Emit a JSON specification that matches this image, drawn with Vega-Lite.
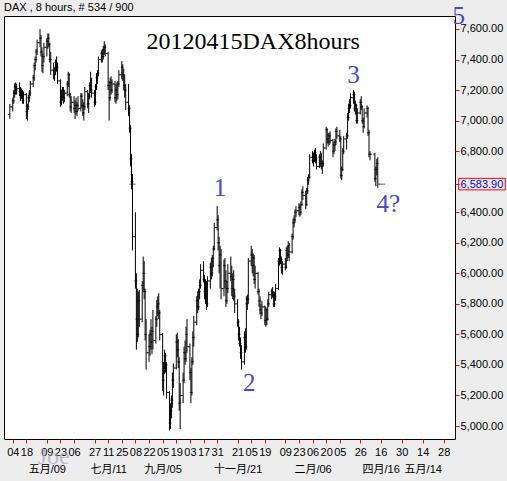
{
"$schema": "https://vega.github.io/schema/vega-lite/v6.json",
"width": 451, "height": 423,
"autosize": {"type": "none"},
"padding": {"left": 4, "top": 16, "right": 52, "bottom": 42},
"background": "#EDEDED",
"title": {"text": "DAX , 8 hours, # 534 / 900", "anchor": "start", "frame": "group", "font": "Liberation Sans", "fontSize": 11, "fontWeight": "normal", "color": "#000000", "offset": -9},
"config": {"view": {"stroke": "#000000", "fill": "#FFFFFF", "strokeWidth": 1}, "font": "Liberation Sans"},
"datasets": {
"ohlc": [
{"d":"2011-04-01","o":7040,"h":7110,"l":7010,"c":7090},
{"d":"2011-04-04","o":7090,"h":7150,"l":7060,"c":7130},
{"d":"2011-04-05","o":7130,"h":7200,"l":7110,"c":7180},
{"d":"2011-04-06","o":7180,"h":7245,"l":7150,"c":7220},
{"d":"2011-04-07","o":7220,"h":7250,"l":7170,"c":7200},
{"d":"2011-04-08","o":7200,"h":7240,"l":7170,"c":7210},
{"d":"2011-04-11","o":7210,"h":7250,"l":7160,"c":7190},
{"d":"2011-04-12","o":7190,"h":7220,"l":7130,"c":7150},
{"d":"2011-04-13","o":7150,"h":7210,"l":7140,"c":7190},
{"d":"2011-04-14","o":7190,"h":7200,"l":7110,"c":7130},
{"d":"2011-04-15","o":7130,"h":7190,"l":7110,"c":7170},
{"d":"2011-04-18","o":7170,"h":7180,"l":7010,"c":7060},
{"d":"2011-04-19","o":7060,"h":7110,"l":7000,"c":7090},
{"d":"2011-04-20","o":7090,"h":7170,"l":7070,"c":7150},
{"d":"2011-04-21","o":7150,"h":7200,"l":7120,"c":7180},
{"d":"2011-04-22","o":7180,"h":7260,"l":7160,"c":7240},
{"d":"2011-04-25","o":7240,"h":7300,"l":7220,"c":7280},
{"d":"2011-04-26","o":7280,"h":7380,"l":7260,"c":7360},
{"d":"2011-04-27","o":7360,"h":7420,"l":7330,"c":7400},
{"d":"2011-04-28","o":7400,"h":7470,"l":7380,"c":7450},
{"d":"2011-04-29","o":7450,"h":7530,"l":7430,"c":7510},
{"d":"2011-05-02","o":7510,"h":7600,"l":7480,"c":7540},
{"d":"2011-05-03","o":7540,"h":7560,"l":7420,"c":7450},
{"d":"2011-05-04","o":7450,"h":7480,"l":7320,"c":7360},
{"d":"2011-05-05","o":7360,"h":7440,"l":7310,"c":7420},
{"d":"2011-05-06","o":7420,"h":7510,"l":7380,"c":7480},
{"d":"2011-05-09","o":7480,"h":7540,"l":7420,"c":7520},
{"d":"2011-05-10","o":7520,"h":7570,"l":7470,"c":7540},
{"d":"2011-05-11","o":7540,"h":7570,"l":7480,"c":7500},
{"d":"2011-05-12","o":7500,"h":7510,"l":7380,"c":7400},
{"d":"2011-05-13","o":7400,"h":7450,"l":7300,"c":7330},
{"d":"2011-05-16","o":7330,"h":7380,"l":7270,"c":7300},
{"d":"2011-05-17","o":7300,"h":7350,"l":7260,"c":7340},
{"d":"2011-05-18","o":7340,"h":7400,"l":7300,"c":7380},
{"d":"2011-05-19","o":7380,"h":7420,"l":7320,"c":7350},
{"d":"2011-05-20","o":7350,"h":7380,"l":7240,"c":7260},
{"d":"2011-05-23","o":7260,"h":7270,"l":7090,"c":7120},
{"d":"2011-05-24","o":7120,"h":7200,"l":7100,"c":7160},
{"d":"2011-05-25","o":7160,"h":7220,"l":7130,"c":7200},
{"d":"2011-05-26","o":7200,"h":7220,"l":7110,"c":7150},
{"d":"2011-05-27","o":7150,"h":7200,"l":7120,"c":7180},
{"d":"2011-05-30","o":7180,"h":7260,"l":7160,"c":7240},
{"d":"2011-05-31","o":7240,"h":7320,"l":7220,"c":7300},
{"d":"2011-06-01","o":7300,"h":7310,"l":7150,"c":7170},
{"d":"2011-06-02","o":7170,"h":7180,"l":7060,"c":7090},
{"d":"2011-06-03","o":7090,"h":7160,"l":7050,"c":7120},
{"d":"2011-06-06","o":7120,"h":7160,"l":7050,"c":7080},
{"d":"2011-06-07","o":7080,"h":7130,"l":7010,"c":7100},
{"d":"2011-06-08","o":7100,"h":7150,"l":7040,"c":7060},
{"d":"2011-06-09","o":7060,"h":7120,"l":7030,"c":7100},
{"d":"2011-06-10","o":7100,"h":7160,"l":7060,"c":7080},
{"d":"2011-06-13","o":7080,"h":7180,"l":7060,"c":7160},
{"d":"2011-06-14","o":7160,"h":7180,"l":7080,"c":7100},
{"d":"2011-06-15","o":7100,"h":7140,"l":7030,"c":7050},
{"d":"2011-06-16","o":7050,"h":7120,"l":7000,"c":7090},
{"d":"2011-06-17","o":7090,"h":7220,"l":7070,"c":7190},
{"d":"2011-06-20","o":7190,"h":7200,"l":7080,"c":7110},
{"d":"2011-06-21","o":7110,"h":7180,"l":7050,"c":7160},
{"d":"2011-06-22","o":7160,"h":7250,"l":7140,"c":7230},
{"d":"2011-06-23","o":7230,"h":7320,"l":7180,"c":7200},
{"d":"2011-06-24","o":7200,"h":7280,"l":7150,"c":7180},
{"d":"2011-06-27","o":7180,"h":7200,"l":7090,"c":7120},
{"d":"2011-06-28","o":7120,"h":7240,"l":7100,"c":7220},
{"d":"2011-06-29","o":7220,"h":7310,"l":7200,"c":7280},
{"d":"2011-06-30","o":7280,"h":7330,"l":7240,"c":7310},
{"d":"2011-07-01","o":7310,"h":7420,"l":7290,"c":7400},
{"d":"2011-07-04","o":7400,"h":7460,"l":7380,"c":7440},
{"d":"2011-07-05","o":7440,"h":7470,"l":7380,"c":7420},
{"d":"2011-07-06","o":7420,"h":7490,"l":7400,"c":7460},
{"d":"2011-07-07","o":7460,"h":7520,"l":7430,"c":7480},
{"d":"2011-07-08","o":7480,"h":7500,"l":7420,"c":7440},
{"d":"2011-07-11","o":7440,"h":7450,"l":7200,"c":7230},
{"d":"2011-07-12","o":7230,"h":7260,"l":7000,"c":7150},
{"d":"2011-07-13","o":7150,"h":7280,"l":7130,"c":7250},
{"d":"2011-07-14","o":7250,"h":7290,"l":7170,"c":7200},
{"d":"2011-07-15","o":7200,"h":7270,"l":7180,"c":7240},
{"d":"2011-07-18","o":7240,"h":7260,"l":7120,"c":7150},
{"d":"2011-07-19","o":7150,"h":7240,"l":7110,"c":7200},
{"d":"2011-07-20","o":7200,"h":7250,"l":7130,"c":7170},
{"d":"2011-07-21","o":7170,"h":7260,"l":7140,"c":7240},
{"d":"2011-07-22","o":7240,"h":7330,"l":7220,"c":7300},
{"d":"2011-07-25","o":7300,"h":7390,"l":7270,"c":7350},
{"d":"2011-07-26","o":7350,"h":7370,"l":7260,"c":7300},
{"d":"2011-07-27","o":7300,"h":7340,"l":7200,"c":7230},
{"d":"2011-07-28","o":7230,"h":7300,"l":7150,"c":7200},
{"d":"2011-07-29","o":7200,"h":7240,"l":7070,"c":7120},
{"d":"2011-08-01","o":7120,"h":7240,"l":7030,"c":7080},
{"d":"2011-08-02","o":7080,"h":7100,"l":6920,"c":6950},
{"d":"2011-08-03","o":6950,"h":6970,"l":6700,"c":6750},
{"d":"2011-08-04","o":6750,"h":6780,"l":6550,"c":6600},
{"d":"2011-08-05","o":6600,"h":6650,"l":6150,"c":6240},
{"d":"2011-08-08","o":6240,"h":6400,"l":5900,"c":5950},
{"d":"2011-08-09","o":5950,"h":6000,"l":5500,"c":5700},
{"d":"2011-08-10","o":5700,"h":5900,"l":5550,"c":5600},
{"d":"2011-08-11","o":5600,"h":5880,"l":5580,"c":5820},
{"d":"2011-08-12","o":5820,"h":5890,"l":5650,"c":5700},
{"d":"2011-08-15","o":5700,"h":5950,"l":5680,"c":5920},
{"d":"2011-08-16","o":5920,"h":6110,"l":5880,"c":6000},
{"d":"2011-08-17","o":6000,"h":6080,"l":5830,"c":5880},
{"d":"2011-08-18","o":5880,"h":5900,"l":5560,"c":5600},
{"d":"2011-08-19","o":5600,"h":5700,"l":5370,"c":5480},
{"d":"2011-08-22","o":5480,"h":5600,"l":5420,"c":5520},
{"d":"2011-08-23","o":5520,"h":5630,"l":5460,"c":5600},
{"d":"2011-08-24","o":5600,"h":5700,"l":5500,"c":5550},
{"d":"2011-08-25","o":5550,"h":5650,"l":5470,"c":5620},
{"d":"2011-08-26","o":5620,"h":5760,"l":5500,"c":5560},
{"d":"2011-08-29","o":5560,"h":5720,"l":5540,"c":5700},
{"d":"2011-08-30","o":5700,"h":5825,"l":5650,"c":5780},
{"d":"2011-08-31","o":5780,"h":5850,"l":5720,"c":5800},
{"d":"2011-09-01","o":5800,"h":5870,"l":5700,"c":5740},
{"d":"2011-09-02","o":5740,"h":5760,"l":5560,"c":5600},
{"d":"2011-09-05","o":5600,"h":5610,"l":5230,"c":5300},
{"d":"2011-09-06","o":5300,"h":5420,"l":5200,"c":5380},
{"d":"2011-09-07","o":5380,"h":5500,"l":5340,"c":5460},
{"d":"2011-09-08","o":5460,"h":5480,"l":5350,"c":5400},
{"d":"2011-09-09","o":5400,"h":5420,"l":5180,"c":5220},
{"d":"2011-09-12","o":5220,"h":5230,"l":4970,"c":5020},
{"d":"2011-09-13","o":5020,"h":5150,"l":4980,"c":5100},
{"d":"2011-09-14","o":5100,"h":5200,"l":5050,"c":5170},
{"d":"2011-09-15","o":5170,"h":5350,"l":5120,"c":5300},
{"d":"2011-09-16","o":5300,"h":5410,"l":5250,"c":5380},
{"d":"2011-09-19","o":5380,"h":5600,"l":5370,"c":5550},
{"d":"2011-09-20","o":5550,"h":5610,"l":5450,"c":5500},
{"d":"2011-09-21","o":5500,"h":5570,"l":5380,"c":5420},
{"d":"2011-09-22","o":5420,"h":5450,"l":5100,"c":5150},
{"d":"2011-09-23","o":5150,"h":5280,"l":4980,"c":5200},
{"d":"2011-09-26","o":5200,"h":5350,"l":5150,"c":5300},
{"d":"2011-09-27","o":5300,"h":5520,"l":5280,"c":5480},
{"d":"2011-09-28","o":5480,"h":5560,"l":5400,"c":5440},
{"d":"2011-09-29","o":5440,"h":5650,"l":5420,"c":5600},
{"d":"2011-09-30","o":5600,"h":5700,"l":5480,"c":5520},
{"d":"2011-10-03","o":5520,"h":5540,"l":5300,"c":5350},
{"d":"2011-10-04","o":5350,"h":5380,"l":5150,"c":5220},
{"d":"2011-10-05","o":5220,"h":5450,"l":5200,"c":5420},
{"d":"2011-10-06","o":5420,"h":5620,"l":5400,"c":5580},
{"d":"2011-10-07","o":5580,"h":5720,"l":5520,"c":5680},
{"d":"2011-10-10","o":5680,"h":5850,"l":5660,"c":5820},
{"d":"2011-10-11","o":5820,"h":5880,"l":5740,"c":5780},
{"d":"2011-10-12","o":5780,"h":5900,"l":5760,"c":5880},
{"d":"2011-10-13","o":5880,"h":5960,"l":5830,"c":5920},
{"d":"2011-10-14","o":5920,"h":6060,"l":5900,"c":6020},
{"d":"2011-10-17","o":6020,"h":6080,"l":5940,"c":5960},
{"d":"2011-10-18","o":5960,"h":5990,"l":5830,"c":5880},
{"d":"2011-10-19","o":5880,"h":5960,"l":5800,"c":5930},
{"d":"2011-10-20","o":5930,"h":5950,"l":5760,"c":5800},
{"d":"2011-10-21","o":5800,"h":5980,"l":5780,"c":5950},
{"d":"2011-10-24","o":5950,"h":6070,"l":5900,"c":6040},
{"d":"2011-10-25","o":6040,"h":6100,"l":5960,"c":6000},
{"d":"2011-10-26","o":6000,"h":6120,"l":5980,"c":6100},
{"d":"2011-10-27","o":6100,"h":6180,"l":6040,"c":6160},
{"d":"2011-10-28","o":6160,"h":6330,"l":6150,"c":6300},
{"d":"2011-10-31","o":6300,"h":6440,"l":6280,"c":6350},
{"d":"2011-11-01","o":6350,"h":6380,"l":6150,"c":6200},
{"d":"2011-11-02","o":6200,"h":6240,"l":6000,"c":6050},
{"d":"2011-11-03","o":6050,"h":6180,"l":5900,"c":6120},
{"d":"2011-11-04","o":6120,"h":6160,"l":5830,"c":5900},
{"d":"2011-11-07","o":5900,"h":6090,"l":5850,"c":6050},
{"d":"2011-11-08","o":6050,"h":6100,"l":5900,"c":5950},
{"d":"2011-11-09","o":5950,"h":6020,"l":5780,"c":5820},
{"d":"2011-11-10","o":5820,"h":5950,"l":5800,"c":5900},
{"d":"2011-11-11","o":5900,"h":6060,"l":5870,"c":6000},
{"d":"2011-11-14","o":6000,"h":6110,"l":5950,"c":5980},
{"d":"2011-11-15","o":5980,"h":6050,"l":5850,"c":5900},
{"d":"2011-11-16","o":5900,"h":6000,"l":5830,"c":5960},
{"d":"2011-11-17","o":5960,"h":6020,"l":5820,"c":5850},
{"d":"2011-11-18","o":5850,"h":5900,"l":5740,"c":5800},
{"d":"2011-11-21","o":5800,"h":5830,"l":5650,"c":5680},
{"d":"2011-11-22","o":5680,"h":5700,"l":5560,"c":5600},
{"d":"2011-11-23","o":5600,"h":5650,"l":5520,"c":5540},
{"d":"2011-11-24","o":5540,"h":5580,"l":5440,"c":5480},
{"d":"2011-11-25","o":5480,"h":5530,"l":5370,"c":5420},
{"d":"2011-11-28","o":5420,"h":5620,"l":5400,"c":5580},
{"d":"2011-11-29","o":5580,"h":5640,"l":5480,"c":5520},
{"d":"2011-11-30","o":5520,"h":5850,"l":5500,"c":5800},
{"d":"2011-12-01","o":5800,"h":5860,"l":5760,"c":5830},
{"d":"2011-12-02","o":5830,"h":6100,"l":5800,"c":6080},
{"d":"2011-12-05","o":6080,"h":6180,"l":6050,"c":6120},
{"d":"2011-12-06","o":6120,"h":6160,"l":6000,"c":6050},
{"d":"2011-12-07","o":6050,"h":6130,"l":5980,"c":6100},
{"d":"2011-12-08","o":6100,"h":6120,"l":5930,"c":5960},
{"d":"2011-12-09","o":5960,"h":6050,"l":5900,"c":6000},
{"d":"2011-12-12","o":6000,"h":6010,"l":5860,"c":5880},
{"d":"2011-12-13","o":5880,"h":5900,"l":5780,"c":5820},
{"d":"2011-12-14","o":5820,"h":5850,"l":5730,"c":5760},
{"d":"2011-12-15","o":5760,"h":5800,"l":5700,"c":5740},
{"d":"2011-12-16","o":5740,"h":5820,"l":5720,"c":5780},
{"d":"2011-12-19","o":5780,"h":5790,"l":5660,"c":5690},
{"d":"2011-12-20","o":5690,"h":5780,"l":5650,"c":5760},
{"d":"2011-12-21","o":5760,"h":5770,"l":5660,"c":5700},
{"d":"2011-12-22","o":5700,"h":5830,"l":5690,"c":5800},
{"d":"2011-12-23","o":5800,"h":5880,"l":5780,"c":5860},
{"d":"2011-12-26","o":5860,"h":5900,"l":5830,"c":5880},
{"d":"2011-12-27","o":5880,"h":5910,"l":5840,"c":5860},
{"d":"2011-12-28","o":5860,"h":5880,"l":5780,"c":5800},
{"d":"2011-12-29","o":5800,"h":5880,"l":5780,"c":5850},
{"d":"2011-12-30","o":5850,"h":5930,"l":5820,"c":5900},
{"d":"2012-01-02","o":5900,"h":6100,"l":5890,"c":6080},
{"d":"2012-01-03","o":6080,"h":6170,"l":6050,"c":6150},
{"d":"2012-01-04","o":6150,"h":6160,"l":6060,"c":6090},
{"d":"2012-01-05","o":6090,"h":6110,"l":6000,"c":6040},
{"d":"2012-01-06","o":6040,"h":6080,"l":5990,"c":6060},
{"d":"2012-01-09","o":6060,"h":6100,"l":6020,"c":6040},
{"d":"2012-01-10","o":6040,"h":6170,"l":6030,"c":6150},
{"d":"2012-01-11","o":6150,"h":6180,"l":6080,"c":6120},
{"d":"2012-01-12","o":6120,"h":6210,"l":6100,"c":6180},
{"d":"2012-01-13","o":6180,"h":6200,"l":6080,"c":6140},
{"d":"2012-01-16","o":6140,"h":6260,"l":6130,"c":6240},
{"d":"2012-01-17","o":6240,"h":6360,"l":6220,"c":6330},
{"d":"2012-01-18","o":6330,"h":6380,"l":6300,"c":6350},
{"d":"2012-01-19","o":6350,"h":6420,"l":6330,"c":6400},
{"d":"2012-01-20","o":6400,"h":6440,"l":6370,"c":6410},
{"d":"2012-01-23","o":6410,"h":6460,"l":6380,"c":6430},
{"d":"2012-01-24","o":6430,"h":6450,"l":6370,"c":6400},
{"d":"2012-01-25","o":6400,"h":6470,"l":6380,"c":6450},
{"d":"2012-01-26","o":6450,"h":6550,"l":6440,"c":6530},
{"d":"2012-01-27","o":6530,"h":6570,"l":6480,"c":6510},
{"d":"2012-01-30","o":6510,"h":6540,"l":6420,"c":6450},
{"d":"2012-01-31","o":6450,"h":6560,"l":6440,"c":6540},
{"d":"2012-02-01","o":6540,"h":6630,"l":6520,"c":6610},
{"d":"2012-02-02","o":6610,"h":6650,"l":6580,"c":6630},
{"d":"2012-02-03","o":6630,"h":6780,"l":6620,"c":6760},
{"d":"2012-02-06","o":6760,"h":6800,"l":6720,"c":6740},
{"d":"2012-02-07","o":6740,"h":6790,"l":6700,"c":6770},
{"d":"2012-02-08","o":6770,"h":6810,"l":6730,"c":6790},
{"d":"2012-02-09","o":6790,"h":6820,"l":6720,"c":6750},
{"d":"2012-02-10","o":6750,"h":6780,"l":6680,"c":6700},
{"d":"2012-02-13","o":6700,"h":6780,"l":6690,"c":6760},
{"d":"2012-02-14","o":6760,"h":6800,"l":6700,"c":6720},
{"d":"2012-02-15","o":6720,"h":6790,"l":6680,"c":6700},
{"d":"2012-02-16","o":6700,"h":6740,"l":6650,"c":6720},
{"d":"2012-02-17","o":6720,"h":6850,"l":6700,"c":6820},
{"d":"2012-02-20","o":6820,"h":6960,"l":6810,"c":6940},
{"d":"2012-02-21","o":6940,"h":6950,"l":6850,"c":6880},
{"d":"2012-02-22","o":6880,"h":6920,"l":6830,"c":6860},
{"d":"2012-02-23","o":6860,"h":6920,"l":6840,"c":6900},
{"d":"2012-02-24","o":6900,"h":6930,"l":6850,"c":6870},
{"d":"2012-02-27","o":6870,"h":6880,"l":6760,"c":6800},
{"d":"2012-02-28","o":6800,"h":6860,"l":6780,"c":6840},
{"d":"2012-02-29","o":6840,"h":6880,"l":6800,"c":6860},
{"d":"2012-03-01","o":6860,"h":6950,"l":6840,"c":6930},
{"d":"2012-03-02","o":6930,"h":6960,"l":6880,"c":6900},
{"d":"2012-03-05","o":6900,"h":6940,"l":6860,"c":6880},
{"d":"2012-03-06","o":6880,"h":6900,"l":6620,"c":6640},
{"d":"2012-03-07","o":6640,"h":6700,"l":6610,"c":6680},
{"d":"2012-03-08","o":6680,"h":6820,"l":6670,"c":6800},
{"d":"2012-03-09","o":6800,"h":6900,"l":6780,"c":6880},
{"d":"2012-03-12","o":6880,"h":6920,"l":6810,"c":6900},
{"d":"2012-03-13","o":6900,"h":7050,"l":6880,"c":7020},
{"d":"2012-03-14","o":7020,"h":7110,"l":7000,"c":7080},
{"d":"2012-03-15","o":7080,"h":7140,"l":7050,"c":7100},
{"d":"2012-03-16","o":7100,"h":7180,"l":7080,"c":7150},
{"d":"2012-03-19","o":7150,"h":7200,"l":7110,"c":7170},
{"d":"2012-03-20","o":7170,"h":7190,"l":7060,"c":7080},
{"d":"2012-03-21","o":7080,"h":7130,"l":7040,"c":7100},
{"d":"2012-03-22","o":7100,"h":7110,"l":6980,"c":7000},
{"d":"2012-03-23","o":7000,"h":7080,"l":6980,"c":7050},
{"d":"2012-03-26","o":7050,"h":7140,"l":7040,"c":7120},
{"d":"2012-03-27","o":7120,"h":7160,"l":7070,"c":7090},
{"d":"2012-03-28","o":7090,"h":7100,"l":6980,"c":7000},
{"d":"2012-03-29","o":7000,"h":7020,"l":6920,"c":6960},
{"d":"2012-03-30","o":6960,"h":7080,"l":6950,"c":7050},
{"d":"2012-04-02","o":7050,"h":7100,"l":7020,"c":7080},
{"d":"2012-04-03","o":7080,"h":7090,"l":6900,"c":6920},
{"d":"2012-04-04","o":6920,"h":6940,"l":6760,"c":6780},
{"d":"2012-04-05","o":6780,"h":6800,"l":6740,"c":6780},
{"d":"2012-04-10","o":6780,"h":6790,"l":6600,"c":6620},
{"d":"2012-04-11","o":6620,"h":6700,"l":6570,"c":6680},
{"d":"2012-04-12","o":6680,"h":6750,"l":6640,"c":6720},
{"d":"2012-04-13","o":6720,"h":6760,"l":6560,"c":6583.9}
],
"marker": [{"d":"2011-08-05","v":6583.9},{"d":"2012-04-17","v":6583.9}],
"box": [{"d":"2012-06-04T12:00:00Z","v":6583.9}],
"heading": [{"d":"2011-12-07","v":7515,"t":"20120415DAX8hours"}],
"waves": [
{"d":"2011-11-03","v":6559,"t":"1"},
{"d":"2011-12-03","v":5282,"t":"2"},
{"d":"2012-03-19","v":7299,"t":"3"},
{"d":"2012-04-21","v":6454,"t":"4?"},
{"d":"2012-06-07","v":7685,"t":"5"}
],
"mark": [{"d":"2011-05-16","v":4797,"t":"Joe"}]
},
"encoding": {
"x": {"field": "d", "type": "temporal",
 "scale": {"type": "utc", "domain": {"expr": "[utc(2011,2,26), utc(2012,3,16), utc(2012,5,4,12)]"}, "range": [0, 376.7, 451]},
 "axis": {"title": null, "domain": false, "grid": false,
  "values": [{"year":2011,"month":4,"date":4,"utc":true},{"year":2011,"month":4,"date":18,"utc":true},{"year":2011,"month":5,"date":9,"utc":true},{"year":2011,"month":5,"date":23,"utc":true},{"year":2011,"month":6,"date":6,"utc":true},{"year":2011,"month":6,"date":27,"utc":true},{"year":2011,"month":7,"date":11,"utc":true},{"year":2011,"month":7,"date":25,"utc":true},{"year":2011,"month":8,"date":8,"utc":true},{"year":2011,"month":8,"date":22,"utc":true},{"year":2011,"month":9,"date":5,"utc":true},{"year":2011,"month":9,"date":19,"utc":true},{"year":2011,"month":10,"date":3,"utc":true},{"year":2011,"month":10,"date":17,"utc":true},{"year":2011,"month":10,"date":31,"utc":true},{"year":2011,"month":11,"date":21,"utc":true},{"year":2011,"month":12,"date":5,"utc":true},{"year":2011,"month":12,"date":19,"utc":true},{"year":2012,"month":1,"date":9,"utc":true},{"year":2012,"month":1,"date":23,"utc":true},{"year":2012,"month":2,"date":6,"utc":true},{"year":2012,"month":2,"date":20,"utc":true},{"year":2012,"month":3,"date":5,"utc":true},{"year":2012,"month":3,"date":26,"utc":true},{"year":2012,"month":4,"date":16,"utc":true},{"year":2012,"month":4,"date":30,"utc":true},{"year":2012,"month":5,"date":14,"utc":true},{"year":2012,"month":5,"date":28,"utc":true}],
  "labelExpr": "indexof(['2011-05-09','2011-07-11','2011-09-05','2011-11-21','2012-02-06','2012-04-16','2012-05-14'], utcFormat(datum.value, '%Y-%m-%d')) >= 0 ? [utcFormat(datum.value, '%d'), ['一月','二月','三月','四月','五月','六月','七月','八月','九月','十月','十一月','十二月'][utcmonth(datum.value)] + '/' + utcFormat(datum.value, '%d')] : utcFormat(datum.value, '%d')",
  "labelFont": "Liberation Sans, Noto Sans CJK SC", "labelFontSize": 11, "labelColor": "#000000", "labelPadding": 3, "labelLineHeight": 17,
  "labelOverlap": false, "labelFlush": false, "labelBound": false,
  "tickColor": "#FF0000", "tickSize": 4, "tickWidth": 1}},
"y": {"field": "v", "type": "quantitative",
 "scale": {"domain": [4915, 7685], "nice": false, "zero": false},
 "axis": {"orient": "right", "title": null, "domain": false, "grid": false,
  "values": [5000,5200,5400,5600,5800,6000,6200,6400,6583.9,6800,7000,7200,7400,7600],
  "format": ",.2f", "labelFont": "Liberation Sans", "labelFontSize": 11,
  "labelColor": {"expr": "datum.value == 6583.9 ? '#0000FF' : '#000000'"},
  "labelPadding": 1, "labelOverlap": false, "labelFlush": false, "labelBound": false,
  "tickColor": "#FF0000", "tickSize": 4, "tickWidth": 1}}
},
"layer": [
{"data": {"name": "ohlc"}, "mark": {"type": "rule", "color": "#000000", "strokeWidth": 1},
 "encoding": {"y": {"field": "l", "type": "quantitative", "scale": {"domain": [4915, 7685], "nice": false, "zero": false}}, "y2": {"field": "h"}}},
{"data": {"name": "ohlc"}, "mark": {"type": "tick", "orient": "horizontal", "size": 2, "thickness": 1, "color": "#000000", "xOffset": -1},
 "encoding": {"y": {"field": "o", "type": "quantitative", "scale": {"domain": [4915, 7685], "nice": false, "zero": false}}}},
{"data": {"name": "ohlc"}, "mark": {"type": "tick", "orient": "horizontal", "size": 2, "thickness": 1, "color": "#000000", "xOffset": 1},
 "encoding": {"y": {"field": "c", "type": "quantitative", "scale": {"domain": [4915, 7685], "nice": false, "zero": false}}}},
{"data": {"name": "marker"}, "mark": {"type": "tick", "orient": "horizontal", "size": 6, "thickness": 1, "color": "#0000FF"}},
{"data": {"name": "box"}, "mark": {"type": "point", "shape": "M0.157,-0.245H2.14V0.245H0.157Z", "size": 2209, "filled": false, "stroke": "#FF0000", "strokeWidth": 1, "opacity": 1}},
{"data": {"name": "heading"}, "mark": {"type": "text", "font": "Liberation Serif", "fontSize": 24, "color": "#000000", "align": "center", "baseline": "middle"},
 "encoding": {"text": {"field": "t"}}},
{"data": {"name": "waves"}, "mark": {"type": "text", "font": "Liberation Serif", "fontSize": 25, "color": "#4646D0", "align": "center", "baseline": "middle"},
 "encoding": {"text": {"field": "t"}}},
{"data": {"name": "mark"}, "mark": {"type": "text", "font": "Liberation Serif", "fontSize": 24, "color": "#A8AAC0", "opacity": 0.7, "align": "center", "baseline": "middle"},
 "encoding": {"text": {"field": "t"}}}
]
}
